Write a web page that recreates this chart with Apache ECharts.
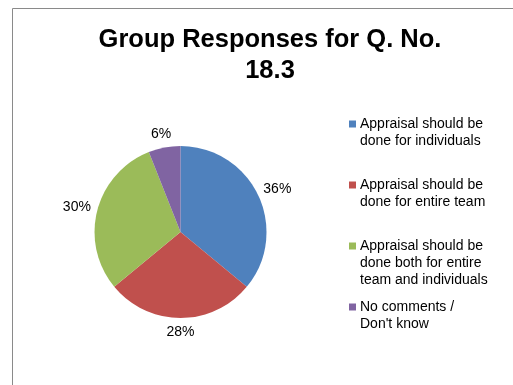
<!DOCTYPE html>
<html>
<head>
<meta charset="utf-8">
<title>Group Responses for Q. No. 18.3</title>
<script src="https://cdn.jsdelivr.net/npm/echarts@6/dist/echarts.min.js"></script>
<style>
    html, body { margin: 0; padding: 0; background: #fff; }
    #chart { width: 513px; height: 385px; }
</style>
</head>
<body>
<div id="chart"></div>
<script>
// 数据
const categories = [
    'Appraisal should be done for individuals',
    'Appraisal should be done for entire team',
    'Appraisal should be done both for entire team and individuals',
    'No comments / Don\'t know'
];
// 图例里的换行
const legendLines = [
    ['Appraisal should be', 'done for individuals'],
    ['Appraisal should be', 'done for entire team'],
    ['Appraisal should be', 'done both for entire', 'team and individuals'],
    ['No comments /', 'Don\'t know']
];
const values = [36, 28, 30, 6];
const colors = ['#4f81bd', '#c0504d', '#9bbb59', '#8064a2'];

const FONT = '"Liberation Sans", Arial, sans-serif';

const chart = echarts.init(document.getElementById('chart'));

// 图例富文本: 色块只放在第一行
const legendRich = {
    s: { width: 7, height: 7, lineHeight: 17 },
    t: { fontSize: 14, lineHeight: 17, color: '#000', fontFamily: FONT, padding: [0, 0, 0, 4] }
};
colors.forEach((c, i) => {
    legendRich['m' + i] = { width: 7, height: 7, lineHeight: 17, backgroundColor: c, verticalAlign: 'middle' };
});

const option = {
    animation: false,
    color: colors,
    title: {
        text: 'Group Responses for Q. No.\n18.3',
        left: 270,
        top: 24,
        textAlign: 'center',
        padding: 0,
        textStyle: {
            fontFamily: FONT,
            fontSize: 25.5,
            fontWeight: 'bold',
            lineHeight: 31,
            color: '#000'
        }
    },
    legend: {
        orient: 'vertical',
        left: 344,
        top: 117,
        itemWidth: 0,
        itemHeight: 0,
        itemGap: 13,
        padding: 0,
        selectedMode: false,
        data: categories,
        formatter: function (name) {
            const i = categories.indexOf(name);
            const lines = legendLines[i].slice();
            while (lines.length < 3) lines.push('');
            return lines.map((l, k) => (k === 0 ? '{m' + i + '|}' : '{s|}') + '{t|' + l + '}').join('\n');
        },
        textStyle: { rich: legendRich }
    },
    graphic: [
        {
            type: 'rect',
            z: -1,
            shape: { x: 12.5, y: 8.5, width: 520, height: 400 },
            style: { fill: 'none', stroke: '#8a8a8a', lineWidth: 1 }
        }
    ],
    series: [
        {
            type: 'pie',
            center: [180.5, 232],
            radius: 86,
            startAngle: 90,
            clockwise: true,
            avoidLabelOverlap: false,
            emphasis: { scale: false },
            label: {
                show: true,
                position: 'outside',
                formatter: '{c}%',
                fontFamily: FONT,
                fontSize: 14,
                color: '#000'
            },
            labelLine: {
                show: true,
                length: 6,
                length2: 0,
                lineStyle: { opacity: 0 }
            },
            // 标签贴着扇区外缘放置
            labelLayout: function (p) {
                const pts = p.labelLinePoints;
                if (!pts || pts.length < 2) return {};
                const dx = pts[1][0] - pts[0][0];
                const dy = pts[1][1] - pts[0][1];
                const len = Math.sqrt(dx * dx + dy * dy) || 1;
                const ux = dx / len, uy = dy / len;
                const gap = 7;
                const w = p.labelRect.width, h = p.labelRect.height;
                return {
                    x: pts[0][0] + ux * gap + ux * w / 2,
                    y: pts[0][1] + uy * gap + uy * h / 2,
                    align: 'center',
                    verticalAlign: 'middle'
                };
            },
            data: categories.map((name, i) => ({ name: name, value: values[i] }))
        }
    ]
};

chart.setOption(option);
window.addEventListener('resize', () => chart.resize());
</script>
</body>
</html>
